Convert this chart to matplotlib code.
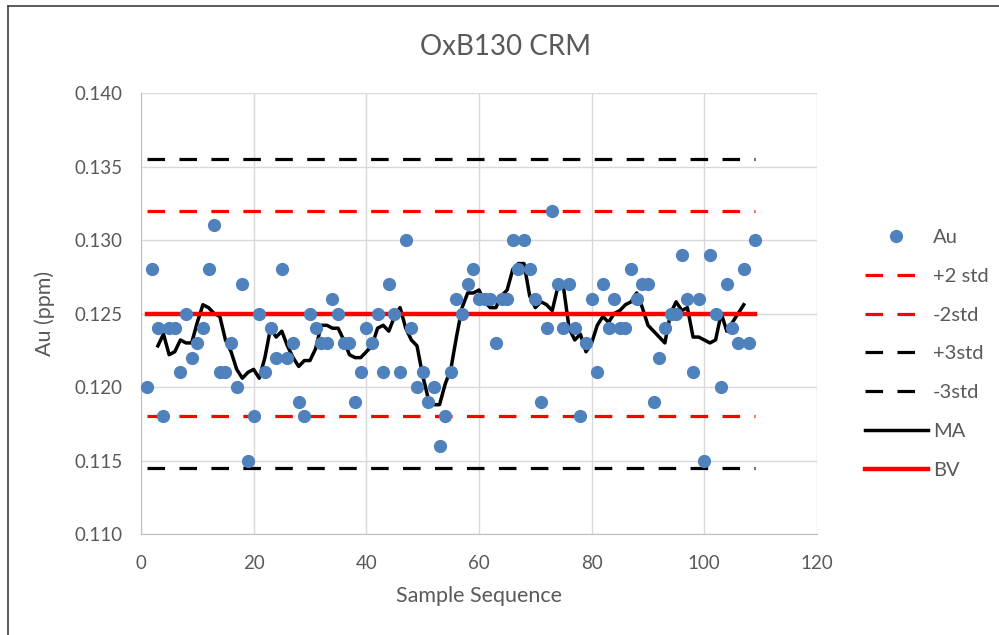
import matplotlib
matplotlib.use("Agg")
import matplotlib.pyplot as plt
from matplotlib.lines import Line2D

plt.rcParams['font.family'] = ['Lato', 'DejaVu Sans']

# sample sequence and Au results (ppm)
seq = list(range(1, 110))
au = [0.120, 0.128, 0.124, 0.118, 0.124, 0.124, 0.121, 0.125, 0.122, 0.123,
      0.124, 0.128, 0.131, 0.121, 0.121, 0.123, 0.120, 0.127, 0.115, 0.118,
      0.125, 0.121, 0.124, 0.122, 0.128, 0.122, 0.123, 0.119, 0.118, 0.125,
      0.124, 0.123, 0.123, 0.126, 0.125, 0.123, 0.123, 0.119, 0.121, 0.124,
      0.123, 0.125, 0.121, 0.127, 0.125, 0.121, 0.130, 0.124, 0.120, 0.121,
      0.119, 0.120, 0.116, 0.118, 0.121, 0.126, 0.125, 0.127, 0.128, 0.126,
      0.126, 0.126, 0.123, 0.126, 0.126, 0.130, 0.128, 0.130, 0.128, 0.126,
      0.119, 0.124, 0.132, 0.127, 0.124, 0.127, 0.124, 0.118, 0.123, 0.126,
      0.121, 0.127, 0.124, 0.126, 0.124, 0.124, 0.128, 0.126, 0.127, 0.127,
      0.119, 0.122, 0.124, 0.125, 0.125, 0.129, 0.126, 0.121, 0.126, 0.115,
      0.129, 0.125, 0.120, 0.127, 0.124, 0.123, 0.128, 0.123, 0.130]

# moving average, plotted from sample 3 to 107
ma_seq = list(range(3, 108))
ma = [0.1228, 0.1236, 0.1222, 0.1224, 0.1232, 0.1230, 0.1230, 0.1244, 0.1256, 0.1254,
      0.1250, 0.1248, 0.1232, 0.1224, 0.1212, 0.1206, 0.1210, 0.1212, 0.1206, 0.1220,
      0.1240, 0.1234, 0.1238, 0.1228, 0.1220, 0.1214, 0.1218, 0.1218, 0.1226, 0.1242,
      0.1242, 0.1240, 0.1240, 0.1232, 0.1222, 0.1220, 0.1220, 0.1224, 0.1228, 0.1240,
      0.1242, 0.1238, 0.1248, 0.1254, 0.1240, 0.1232, 0.1228, 0.1208, 0.1192, 0.1188,
      0.1188, 0.1202, 0.1212, 0.1234, 0.1254, 0.1264, 0.1264, 0.1266, 0.1258, 0.1254,
      0.1254, 0.1262, 0.1266, 0.1280, 0.1284, 0.1284, 0.1262, 0.1254, 0.1258, 0.1256,
      0.1252, 0.1268, 0.1268, 0.1240, 0.1232, 0.1236, 0.1224, 0.1230, 0.1242, 0.1248,
      0.1244, 0.1250, 0.1252, 0.1256, 0.1258, 0.1264, 0.1254, 0.1242, 0.1238, 0.1234,
      0.1230, 0.1250, 0.1258, 0.1252, 0.1254, 0.1234, 0.1234, 0.1232, 0.1230, 0.1232,
      0.1250, 0.1238, 0.1244, 0.1250, 0.1256]

bv = 0.125
plus2, minus2 = 0.132, 0.118
plus3, minus3 = 0.1355, 0.1145

fig = plt.figure(figsize=(9.99, 6.35), dpi=100)
ax = fig.add_axes([0.1411, 0.159, 0.6767, 0.6945])

red = '#ff0000'
dash = (5.5, 4.5)
xr = [seq[0], seq[-1]]
ax.plot(xr, [plus2] * 2, color=red, lw=2.3, dashes=dash, label='+2 std', zorder=2)
ax.plot(xr, [minus2] * 2, color=red, lw=2.3, dashes=dash, label='-2std', zorder=2)
ax.plot(xr, [plus3] * 2, color='black', lw=2.3, dashes=dash, label='+3std', zorder=2)
ax.plot(xr, [minus3] * 2, color='black', lw=2.3, dashes=dash, label='-3std', zorder=2)
ax.plot(ma_seq, ma, color='black', lw=2.5, label='MA', zorder=3)
ax.plot(xr, [bv] * 2, color=red, lw=3.2, label='BV', zorder=3)
ax.plot(seq, au, 'o', color='#4F81BD', ms=8.5, label='Au', zorder=4)

ax.set_xlim(0, 120)
ax.set_ylim(0.110, 0.140)
ax.set_xticks(range(0, 121, 20))
ax.set_yticks([0.110, 0.115, 0.120, 0.125, 0.130, 0.135, 0.140])
ax.set_yticklabels([f'{v:.3f}' for v in ax.get_yticks()])
ax.grid(True, color='#d9d9d9', lw=1)
ax.set_axisbelow(True)
ax.tick_params(length=0, labelsize=13.5, labelcolor='#595959')
ax.tick_params(axis='x', pad=15)
ax.tick_params(axis='y', pad=13)
for s in ['top', 'right']:
    ax.spines[s].set_visible(False)
for s in ['left', 'bottom']:
    ax.spines[s].set_color('#bfbfbf')

ax.set_xlabel('Sample Sequence', fontsize=15.5, color='#595959', labelpad=10)
ax.set_ylabel('Au (ppm)', fontsize=15.5, color='#595959', labelpad=14)
fig.text(0.506, 0.926, 'OxB130 CRM', ha='center', va='center',
         fontsize=20, color='#595959')

handles, labels = ax.get_legend_handles_labels()
order = ['Au', '+2 std', '-2std', '+3std', '-3std', 'MA', 'BV']
hmap = dict(zip(labels, handles))
leg = fig.legend([hmap[k] for k in order], order, loc='upper left',
                 bbox_to_anchor=(0.850, 0.665), frameon=False, fontsize=14.5,
                 handlelength=3.1, handletextpad=0.25, labelspacing=1.08,
                 borderpad=0.3)
for t in leg.get_texts():
    t.set_color('#595959')

# chart border (top and left edge of the screenshot)
fig.add_artist(Line2D([0.008, 0.008], [0, 0.991], color='#404040', lw=1.2,
                      transform=fig.transFigure))
fig.add_artist(Line2D([0.008, 1], [0.991, 0.991], color='#404040', lw=1.2,
                      transform=fig.transFigure))

fig.savefig('out.png', dpi=100)
